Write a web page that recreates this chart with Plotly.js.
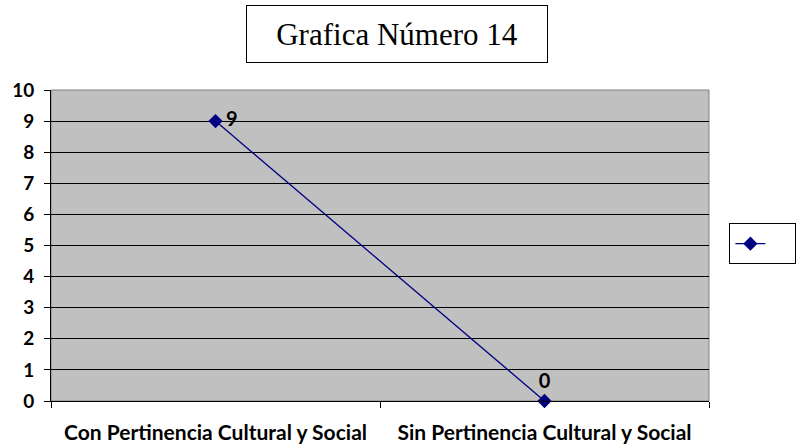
<!DOCTYPE html>
<html>
<head>
<meta charset="utf-8">
<script src="https://cdn.plot.ly/plotly-3.0.1.min.js"></script>
<style>html,body{margin:0;padding:0;background:#fff;}#chart{width:796px;height:447px;}</style>
</head>
<body>
<div id="chart"></div>
<script>
const categories = ["Con Pertinencia Cultural y Social", "Sin Pertinencia Cultural y Social"];
const values = [9, 0];
const labelPositions = ["middle right", "top center"];
const yTicks = [0,1,2,3,4,5,6,7,8,9,10];
const chartTitle = "Grafica Número 14";

const fontSans = "Lato, 'Open Sans', sans-serif";

const trace = {
  x: categories,
  y: values,
  type: "scatter",
  mode: "lines+markers+text",
  name: "\u2003",
  line: {color: "#000080", width: 1.3},
  marker: {symbol: "diamond", size: 11, color: "#000080"},
  text: values.map((v, i) => (labelPositions[i] === "middle right" ? "\u2009" : "") + v),
  textposition: labelPositions,
  textfont: {family: fontSans, size: 20, color: "#000", weight: "bold"},
  cliponaxis: false
};

const layout = {
  width: 796, height: 447,
  margin: {l: 51, r: 87, t: 90, b: 46, autoexpand: false},
  paper_bgcolor: "#ffffff",
  plot_bgcolor: "#c0c0c0",
  showlegend: true,
  legend: {
    x: 1.031, y: 0.506, xanchor: "left", yanchor: "middle",
    bordercolor: "#000", borderwidth: 1, bgcolor: "#fff",
    font: {size: 20}, itemwidth: 30
  },
  xaxis: {
    type: "category",
    range: [-0.5, 1.5],
    tickson: "boundaries",
    ticks: "outside", ticklen: 6, tickcolor: "#000",
    ticklabelstandoff: 13,
    showgrid: false,
    showline: true, linecolor: "#000", linewidth: 1,
    tickfont: {family: fontSans, size: 21, color: "#000", weight: "bold"},
    fixedrange: true
  },
  yaxis: {
    range: [0, 10],
    tickvals: yTicks,
    ticks: "outside", ticklen: 6, tickcolor: "#000",
    ticklabelstandoff: 6,
    showgrid: true, gridcolor: "#000", gridwidth: 1,
    zeroline: false,
    showline: true, linecolor: "#000", linewidth: 1,
    tickfont: {family: fontSans, size: 19, color: "#000", weight: "bold"},
    fixedrange: true
  },
  shapes: [{
    type: "rect", xref: "paper", yref: "paper", x0: 0, x1: 1, y0: 0, y1: 1,
    line: {color: "#808080", width: 1}, layer: "below"
  }],
  annotations: [{
    text: chartTitle, xref: "paper", yref: "paper",
    x: (397.5 - 51) / 658, y: 1 + (90 - 34.5) / 311, xanchor: "center", yanchor: "middle",
    showarrow: false,
    width: 298, height: 54,
    font: {family: "'Liberation Serif', 'Times New Roman', serif", size: 31, color: "#000"},
    bordercolor: "#000", borderwidth: 1, borderpad: 1, bgcolor: "#fff"
  }]
};

Plotly.newPlot("chart", [trace], layout, {displayModeBar: false, staticPlot: true});
</script>
</body>
</html>
